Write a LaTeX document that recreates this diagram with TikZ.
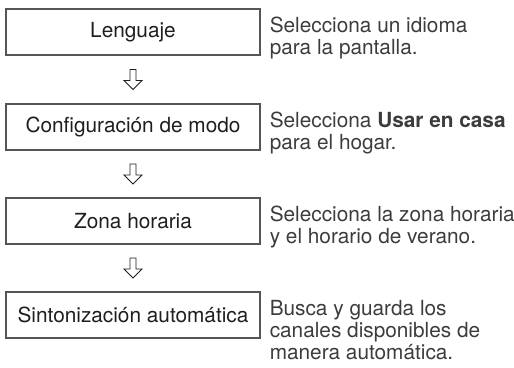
\documentclass[tikz,border=0pt]{standalone}
\usepackage{fontspec}
\setmainfont{TeX Gyre Heros}
\usetikzlibrary{positioning, calc}

\definecolor{marco}{HTML}{555555}
\definecolor{tinta}{HTML}{1E1E1E}
\definecolor{gris}{HTML}{3C3C3C}

\begin{document}
\begin{tikzpicture}[
        x=1pt, y=-1pt,
        paso/.style={draw=marco, line width=1.1pt, rectangle, minimum width=254pt, minimum height=46pt, inner sep=0pt, text=tinta, font=\fontsize{20.8}{22}\selectfont},
        nota/.style={anchor=base west, align=left, inner sep=0pt, text=gris, font=\fontsize{20.8}{22}\selectfont},
        flecha/.pic={\draw[draw=tinta, fill=white, line width=0.9pt, line join=miter] (-3,-10) -- (3,-10) -- (3,1) -- (9,1) -- (0,10) -- (-9,1) -- (-3,1) -- cycle;}
    ]
        \useasboundingbox (0,0) rectangle (514,367);

        \node[paso] (lenguaje) at (133, 32) {Lenguaje};
        \node[paso] (modo) at (133, 127) {Configuración de modo};
        \node[paso] (zona) at (133, 221) {Zona horaria};
        \node[paso] (sinto) at (133, 315) {Sintonización automática};

        % base = last line, so shift down by the extra lines
        \node[nota] (notalen) at ([xshift=9pt, yshift=-22pt]lenguaje.east) {Selecciona un idioma\\para la pantalla.};
        \node[nota] (notamodo) at ([xshift=9pt, yshift=-22pt]modo.east) {Selecciona \textbf{Usar en casa}\\para el hogar.};
        \node[nota] (notazona) at ([xshift=9pt, yshift=-22pt]zona.east) {Selecciona la zona horaria\\y el horario de verano.};
        \node[nota] (notasinto) at ([xshift=9pt, yshift=-44pt]sinto.east) {Busca y guarda los\\canales disponibles de\\manera automática.};

        \coordinate (f1) at ($(lenguaje.south)!0.5!(modo.north)$);
        \coordinate (f2) at ($(modo.south)!0.5!(zona.north)$);
        \coordinate (f3) at ($(zona.south)!0.5!(sinto.north)$);
        \foreach \f in {f1, f2, f3}
            \pic at (\f) {flecha};

    \end{tikzpicture}
\end{document}
